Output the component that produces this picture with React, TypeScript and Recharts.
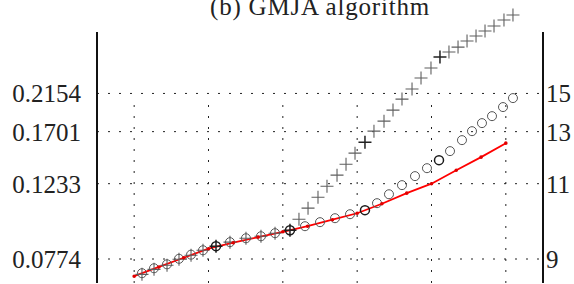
import React from 'react';
import {
  ComposedChart,
  Scatter,
  Line,
  XAxis,
  YAxis,
  ReferenceLine,
} from 'recharts';

// x in grid units (1..6), y in left-axis units (log scale)
const circleX = [
  1.105, 1.267, 1.442, 1.603, 1.765, 1.926, 2.101, 2.289, 2.504, 2.706, 2.895, 3.096,
  3.298, 3.5, 3.702, 3.904, 4.105, 4.267, 4.428, 4.603, 4.778, 4.939, 5.101, 5.249,
  5.41, 5.545, 5.679, 5.814, 5.962, 6.096,
];
const circleY = [
  0.0709, 0.0731, 0.0749, 0.0775, 0.0795, 0.0817, 0.0838, 0.0859, 0.088, 0.0891, 0.0908, 0.0925,
  0.0948, 0.0972, 0.0996, 0.1021, 0.1047, 0.1093, 0.1155, 0.1222, 0.1292, 0.1357, 0.1426, 0.1508,
  0.1614, 0.1706, 0.1793, 0.1872, 0.198, 0.2093,
];
const circleEmph = [6, 11, 16, 22];

const plusX = [
  1.105, 1.267, 1.442, 1.603, 1.765, 1.926, 2.101, 2.289, 2.504, 2.706, 2.895, 3.096,
  3.217, 3.339, 3.473, 3.594, 3.729, 3.85, 3.971, 4.105, 4.226, 4.361, 4.482, 4.603,
  4.738, 4.859, 4.993, 5.114, 5.235, 5.357, 5.478, 5.599, 5.72, 5.841, 5.975, 6.096,
];
const plusY = [
  0.0704, 0.0726, 0.0745, 0.0773, 0.0792, 0.0817, 0.0838, 0.0859, 0.088, 0.0891, 0.0908, 0.0925,
  0.099, 0.106, 0.1134, 0.1214, 0.13, 0.1391, 0.1489, 0.1594, 0.1706, 0.1815, 0.1943, 0.208,
  0.2213, 0.2369, 0.252, 0.2697, 0.2782, 0.2869, 0.2978, 0.3072, 0.3168, 0.3268, 0.3391, 0.3498,
];
const plusEmph = [6, 11, 19, 27];

const redX = [1, 1.333, 1.667, 2, 2.333, 2.667, 3, 3.333, 3.667, 4, 4.333, 4.667, 5, 5.333, 5.667, 6];
const redY = [
  0.0696, 0.0737, 0.078, 0.0825, 0.0856, 0.0886, 0.0916, 0.0948, 0.0987, 0.1027, 0.1089, 0.1163,
  0.1233, 0.134, 0.1453, 0.1584,
];

const yTicks = [0.0774, 0.1233, 0.1701, 0.2154];
const rightLabels = ['9', '11', '13', '15'];
const xGrid = [1, 2, 3, 4, 5, 6];

const circles = circleX.map((x, i) => ({ x, y: circleY[i] }));
const pluses = plusX.map((x, i) => ({ x, y: plusY[i] }));
const red = redX.map((x, i) => ({ x, y: redY[i] }));

const darkCircle = new Set(circleEmph.map((i) => circleX[i]));
const darkPlus = new Set(plusEmph.map((i) => plusX[i]));

const Y_DOMAIN: [number, number] = [0.06673, 0.3653];
const AXIS_TOP = 0.315;
const VGRID_TOP = 0.203;
const FONT = '"Liberation Serif", "Times New Roman", serif';

function CircleMark(props: any) {
  const { cx, cy, payload } = props;
  if (cx == null || cy == null) return null;
  const dark = darkCircle.has(payload?.x);
  return (
    <circle
      cx={cx}
      cy={cy}
      r={4.5}
      fill="none"
      stroke={dark ? '#1a1a1a' : '#555'}
      strokeWidth={dark ? 1.5 : 1}
    />
  );
}

function PlusMark(props: any) {
  const { cx, cy, payload } = props;
  if (cx == null || cy == null) return null;
  const dark = darkPlus.has(payload?.x);
  const h = 6.5;
  return (
    <path
      d={`M${cx - h},${cy}H${cx + h}M${cx},${cy - h}V${cy + h}`}
      stroke={dark ? '#222' : '#5f5f5f'}
      strokeWidth={dark ? 1.5 : 1.1}
      fill="none"
    />
  );
}

export default function App() {
  return (
    <div style={{ position: 'absolute', left: 0, top: 0, width: 574, height: 284, background: '#fff' }}>
      <ComposedChart width={574} height={284} margin={{ top: 8, right: 0, bottom: 1, left: 0 }}>
        <XAxis
          type="number"
          dataKey="x"
          domain={[0.5, 6.5]}
          allowDataOverflow
          height={0}
          tick={false}
          tickLine={false}
          axisLine={{ stroke: '#111', strokeWidth: 2 }}
        />
        <YAxis
          yAxisId="left"
          dataKey="y"
          scale="log"
          domain={Y_DOMAIN}
          allowDataOverflow
          ticks={yTicks}
          width={97}
          axisLine={false}
          tickLine={false}
          tickSize={0}
          tickMargin={16}
          tick={{ fill: '#222', fontSize: 25, fontFamily: FONT }}
        />
        <YAxis
          yAxisId="right"
          orientation="right"
          dataKey="y"
          scale="log"
          domain={Y_DOMAIN}
          allowDataOverflow
          ticks={yTicks}
          tickFormatter={(_v: number, i: number) => rightLabels[i]}
          width={31}
          axisLine={false}
          tickLine={false}
          tickSize={0}
          tickMargin={3}
          tick={{ fill: '#222', fontSize: 25, fontFamily: FONT, textAnchor: 'start' }}
        />
        {yTicks.map((y) => (
          <ReferenceLine
            key={`hg-${y}`}
            yAxisId="left"
            y={y}
            stroke="#222"
            strokeDasharray="2 9"
          />
        ))}
        {xGrid.map((x) => (
          <ReferenceLine
            key={`vg-${x}`}
            yAxisId="left"
            segment={[{ x, y: Y_DOMAIN[0] }, { x, y: VGRID_TOP }]}
            stroke="#222"
            strokeDasharray="2 9"
          />
        ))}
        <ReferenceLine
          yAxisId="left"
          segment={[{ x: 0.5, y: Y_DOMAIN[0] }, { x: 0.5, y: AXIS_TOP }]}
          stroke="#111"
          strokeWidth={2}
        />
        <ReferenceLine
          yAxisId="left"
          segment={[{ x: 6.5, y: Y_DOMAIN[0] }, { x: 6.5, y: AXIS_TOP }]}
          stroke="#111"
          strokeWidth={2}
        />
        <Scatter yAxisId="left" data={pluses} dataKey="y" shape={<PlusMark />} isAnimationActive={false} />
        <Scatter yAxisId="left" data={circles} dataKey="y" shape={<CircleMark />} isAnimationActive={false} />
        <Line
          yAxisId="left"
          data={red}
          dataKey="y"
          type="linear"
          stroke="#ff0000"
          strokeWidth={1.8}
          dot={{ r: 0.9, fill: '#e00000', stroke: '#e00000' }}
          activeDot={false}
          isAnimationActive={false}
        />
      </ComposedChart>
      <svg
        width={574}
        height={30}
        style={{ position: 'absolute', left: 0, top: 0, pointerEvents: 'none', overflow: 'visible' }}
      >
        <text x={320} y={15} textAnchor="middle" fontFamily={FONT} fontSize={25} letterSpacing={0.8} fill="#222">
          (b) GMJA algorithm
        </text>
      </svg>
    </div>
  );
}
